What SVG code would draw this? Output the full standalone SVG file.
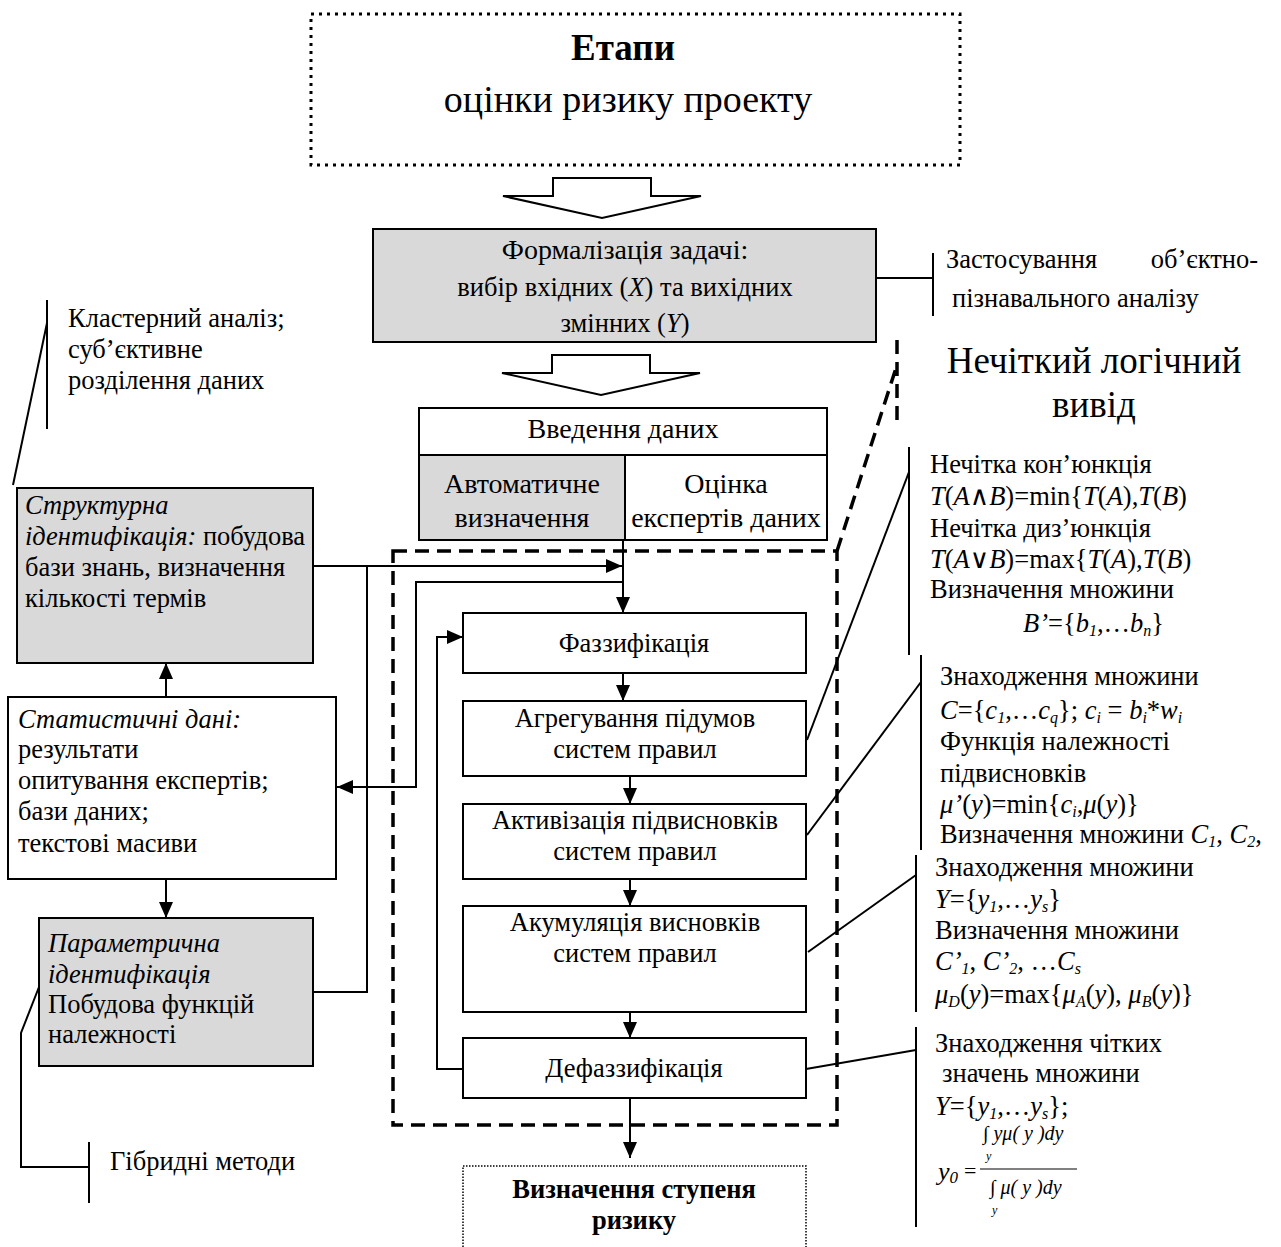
<svg xmlns="http://www.w3.org/2000/svg" width="1281" height="1247" viewBox="0 0 1281 1247">
<defs>
<marker id="ah" viewBox="0 0 16 14" refX="16" refY="7" markerWidth="16" markerHeight="14" markerUnits="userSpaceOnUse" orient="auto">
<path d="M0,0 L16,7 L0,14 Z" fill="#000"/>
</marker>
</defs>
<style>
text{font-family:"Liberation Serif","Times New Roman","DejaVu Serif",serif;fill:#000;font-size:26.5px}
.i{font-style:italic}
.b{font-weight:bold}
.sub{font-size:16px;font-style:italic}
.m{text-anchor:middle}
.box{fill:#fff;stroke:#000;stroke-width:2}
.gray{fill:#d9d9d9;stroke:#000;stroke-width:2}
.ln{fill:none;stroke:#000;stroke-width:2}
.arr{fill:none;stroke:#000;stroke-width:2;marker-end:url(#ah)}
.dash{fill:none;stroke:#000;stroke-width:3.5;stroke-dasharray:14 8}
.blk{fill:#fff;stroke:#000;stroke-width:2;stroke-linejoin:miter}
</style>
<rect width="1281" height="1247" fill="#fff"/>

<g id="stages">
<rect x="311" y="14" width="649" height="151" fill="#fff" stroke="#000" stroke-width="3" stroke-dasharray="3 5"/>
<text x="623" y="60" class="m b" style="font-size:37px">Етапи</text>
<text x="628" y="112" class="m" style="font-size:38px">оцінки ризику проекту</text>
</g>

<g id="bigarrow1"><polygon class="blk" points="553,178 651,178 651,196 701,196 602,218 503,196 553,196"/></g>

<g id="formalization">
<rect class="gray" x="373" y="229" width="503" height="113"/>
<text x="625" y="259" class="m" style="font-size:28px">Формалізація задачі:</text>
<text x="625" y="296" class="m">вибір вхідних (<tspan class="i">X</tspan>) та вихідних</text>
<text x="625" y="332" class="m">змінних (<tspan class="i">Y</tspan>)</text>
</g>

<g id="bigarrow2"><polygon class="blk" points="552,355 650,355 650,373 700,373 601,395 502,373 552,373"/></g>

<g id="note-object">
<line class="ln" x1="876" y1="278" x2="933" y2="278"/>
<line class="ln" x1="933" y1="253" x2="933" y2="316"/>
<text x="946" y="268">Застосування</text>
<text x="1258" y="268" style="text-anchor:end">об’єктно-</text>
<text x="952" y="307">пізнавального аналізу</text>
</g>

<g id="note-cluster">
<line class="ln" x1="47" y1="300" x2="47" y2="429"/>
<line class="ln" x1="47" y1="323" x2="13" y2="485"/>
<text x="68" y="327">Кластерний аналіз;</text>
<text x="68" y="358">суб’єктивне</text>
<text x="68" y="389">розділення даних</text>
</g>

<g id="fuzzy-title">
<text x="1094" y="373" class="m" style="font-size:37px">Нечіткий логічний</text>
<text x="1094" y="417" class="m" style="font-size:37px">вивід</text>
</g>

<g id="input">
<rect class="box" x="419" y="408" width="408" height="132"/>
<rect class="gray" x="419" y="455" width="206" height="85"/>
<line class="ln" x1="625" y1="455" x2="827" y2="455"/>
<text x="623" y="438" class="m" style="font-size:28px">Введення даних</text>
<text x="522" y="493" class="m" style="font-size:28px">Автоматичне</text>
<text x="522" y="527" class="m" style="font-size:28px">визначення</text>
<text x="726" y="493" class="m" style="font-size:28px">Оцінка</text>
<text x="726" y="527" class="m" style="font-size:28px">експертів даних</text>
</g>

<g id="fuzzy-frame">
<rect class="dash" x="393" y="551" width="444" height="574"/>
<path class="dash" d="M837,551 L896,368 M897,340 V428"/>
</g>

<g id="structural">
<rect class="gray" x="17" y="488" width="296" height="175"/>
<text x="25" y="514" class="i">Структурна</text>
<text x="25" y="545"><tspan class="i">ідентифікація:</tspan> побудова</text>
<text x="25" y="576">бази знань, визначення</text>
<text x="25" y="607">кількості термів</text>
</g>

<g id="statistics">
<rect class="box" x="8" y="697" width="328" height="182"/>
<text x="18" y="728" class="i">Статистичні дані:</text>
<text x="18" y="758">результати</text>
<text x="18" y="789">опитування експертів;</text>
<text x="18" y="820">бази даних;</text>
<text x="18" y="852">текстові масиви</text>
</g>

<g id="parametric">
<rect class="gray" x="39" y="918" width="274" height="148"/>
<text x="48" y="952" class="i">Параметрична</text>
<text x="48" y="983" class="i">ідентифікація</text>
<text x="48" y="1013">Побудова функцій</text>
<text x="48" y="1043">належності</text>
</g>

<g id="note-hybrid">
<polyline class="ln" points="39,987 21,1033 21,1167 89,1167"/>
<line class="ln" x1="89" y1="1142" x2="89" y2="1203"/>
<text x="110" y="1170">Гібридні методи</text>
</g>

<g id="fuzzification">
<rect class="box" x="463" y="613" width="343" height="60"/>
<text x="634" y="652" class="m">Фаззифікація</text>
</g>
<g id="aggregation">
<rect class="box" x="463" y="701" width="343" height="75"/>
<text x="635" y="727" class="m">Агрегування підумов</text>
<text x="635" y="758" class="m">систем правил</text>
</g>
<g id="activation">
<rect class="box" x="463" y="804" width="343" height="75"/>
<text x="635" y="829" class="m">Активізація підвисновків</text>
<text x="635" y="860" class="m">систем правил</text>
</g>
<g id="accumulation">
<rect class="box" x="463" y="906" width="343" height="106"/>
<text x="635" y="931" class="m">Акумуляція висновків</text>
<text x="635" y="962" class="m">систем правил</text>
</g>
<g id="defuzzification">
<rect class="box" x="463" y="1038" width="343" height="60"/>
<text x="634" y="1077" class="m">Дефаззифікація</text>
</g>
<g id="risk">
<rect x="463" y="1166" width="343" height="95" fill="#fff" stroke="#000" stroke-width="1.5" stroke-dasharray="1.5 1.5"/>
<text x="634" y="1198" class="m b">Визначення ступеня</text>
<text x="634" y="1229" class="m b">ризику</text>
</g>

<g id="note-conj">
<line class="ln" x1="909" y1="447" x2="909" y2="655"/>
<line class="ln" x1="909" y1="472" x2="807" y2="740"/>
<text x="930" y="473">Нечітка кон’юнкція</text>
<text x="930" y="505"><tspan class="i">T</tspan>(<tspan class="i">A</tspan>∧<tspan class="i">B</tspan>)=min{<tspan class="i">T</tspan>(<tspan class="i">A</tspan>),<tspan class="i">T</tspan>(<tspan class="i">B</tspan>)</text>
<text x="930" y="537">Нечітка диз’юнкція</text>
<text x="930" y="568"><tspan class="i">T</tspan>(<tspan class="i">A</tspan>∨<tspan class="i">B</tspan>)=max{<tspan class="i">T</tspan>(<tspan class="i">A</tspan>),<tspan class="i">T</tspan>(<tspan class="i">B</tspan>)</text>
<text x="930" y="598">Визначення множини</text>
<text x="1023" y="632"><tspan class="i">B’</tspan>={<tspan class="i">b</tspan><tspan class="sub" dy="4">1</tspan><tspan dy="-4">,…</tspan><tspan class="i">b</tspan><tspan class="sub" dy="4">n</tspan><tspan dy="-4">}</tspan></text>
</g>

<g id="note-activation">
<line class="ln" x1="921" y1="655" x2="921" y2="850"/>
<line class="ln" x1="921" y1="682" x2="807" y2="835"/>
<text x="940" y="685">Знаходження множини</text>
<text x="940" y="719"><tspan class="i">C</tspan>={<tspan class="i">c</tspan><tspan class="sub" dy="4">1</tspan><tspan dy="-4">,…</tspan><tspan class="i">c</tspan><tspan class="sub" dy="4">q</tspan><tspan dy="-4">}; </tspan><tspan class="i">c</tspan><tspan class="sub" dy="4">i</tspan><tspan dy="-4"> = </tspan><tspan class="i">b</tspan><tspan class="sub" dy="4">i</tspan><tspan dy="-4">*</tspan><tspan class="i">w</tspan><tspan class="sub" dy="4">i</tspan></text>
<text x="940" y="750">Функція належності</text>
<text x="940" y="782">підвисновків</text>
<text x="940" y="813"><tspan class="i">μ’</tspan>(<tspan class="i">y</tspan>)=min{<tspan class="i">c</tspan><tspan class="sub" dy="4">i</tspan><tspan dy="-4">,</tspan><tspan class="i">μ</tspan>(<tspan class="i">y</tspan>)}</text>
<text x="940" y="843">Визначення множини <tspan class="i">C</tspan><tspan class="sub" dy="4">1</tspan><tspan dy="-4">, </tspan><tspan class="i">C</tspan><tspan class="sub" dy="4">2</tspan><tspan dy="-4">,</tspan></text>
</g>

<g id="note-accumulation">
<line class="ln" x1="916" y1="855" x2="916" y2="1012"/>
<line class="ln" x1="916" y1="875" x2="808" y2="952"/>
<text x="935" y="876">Знаходження множини</text>
<text x="935" y="908"><tspan class="i">Y</tspan>={<tspan class="i">y</tspan><tspan class="sub" dy="4">1</tspan><tspan dy="-4">,…</tspan><tspan class="i">y</tspan><tspan class="sub" dy="4">s</tspan><tspan dy="-4">}</tspan></text>
<text x="935" y="939">Визначення множини</text>
<text x="935" y="970"><tspan class="i">C’</tspan><tspan class="sub" dy="4">1</tspan><tspan dy="-4">, </tspan><tspan class="i">C’</tspan><tspan class="sub" dy="4">2</tspan><tspan dy="-4">, …</tspan><tspan class="i">C</tspan><tspan class="sub" dy="4">s</tspan></text>
<text x="935" y="1003"><tspan class="i">μ</tspan><tspan class="sub" dy="4">D</tspan><tspan dy="-4">(</tspan><tspan class="i">y</tspan>)=max{<tspan class="i">μ</tspan><tspan class="sub" dy="4">A</tspan><tspan dy="-4">(</tspan><tspan class="i">y</tspan>), <tspan class="i">μ</tspan><tspan class="sub" dy="4">B</tspan><tspan dy="-4">(</tspan><tspan class="i">y</tspan>)}</text>
</g>

<g id="note-defuzz">
<line class="ln" x1="916" y1="1027" x2="916" y2="1227"/>
<line class="ln" x1="916" y1="1050" x2="806" y2="1069"/>
<text x="935" y="1052">Знаходження чітких</text>
<text x="942" y="1082">значень множини</text>
<text x="935" y="1115"><tspan class="i">Y</tspan>={<tspan class="i">y</tspan><tspan class="sub" dy="4">1</tspan><tspan dy="-4">,…</tspan><tspan class="i">y</tspan><tspan class="sub" dy="4">s</tspan><tspan dy="-4">};</tspan></text>
<text x="983" y="1140" style="font-size:20px">∫ <tspan class="i">yμ( y )dy</tspan></text>
<text x="986" y="1160" class="i" style="font-size:12px">y</text>
<line x1="980" y1="1169" x2="1077" y2="1169" stroke="#000" stroke-width="1"/>
<text x="938" y="1180" class="i" style="font-size:26px">y<tspan style="font-size:17px" dy="3">0</tspan></text>
<text x="964" y="1178" style="font-size:22px">=</text>
<text x="990" y="1194" style="font-size:20px">∫ <tspan class="i">μ( y )dy</tspan></text>
<text x="992" y="1214" class="i" style="font-size:12px">y</text>
</g>

<g id="connectors">
<line class="arr" x1="623" y1="540" x2="623" y2="613"/>
<line class="arr" x1="313" y1="566" x2="622" y2="566"/>
<polyline class="arr" points="623,582 416,582 416,787 337,787"/>
<polyline class="ln" points="313,992 367,992 367,566"/>
<line class="arr" x1="623" y1="673" x2="623" y2="701"/>
<line class="arr" x1="630" y1="776" x2="630" y2="804"/>
<line class="arr" x1="630" y1="879" x2="630" y2="906"/>
<line class="arr" x1="630" y1="1012" x2="630" y2="1038"/>
<line class="arr" x1="630" y1="1098" x2="630" y2="1158"/>
<polyline class="arr" points="463,1069 437,1069 437,637 463,637"/>
<line class="arr" x1="166" y1="697" x2="166" y2="663"/>
<line class="arr" x1="166" y1="879" x2="166" y2="918"/>
</g>
</svg>
